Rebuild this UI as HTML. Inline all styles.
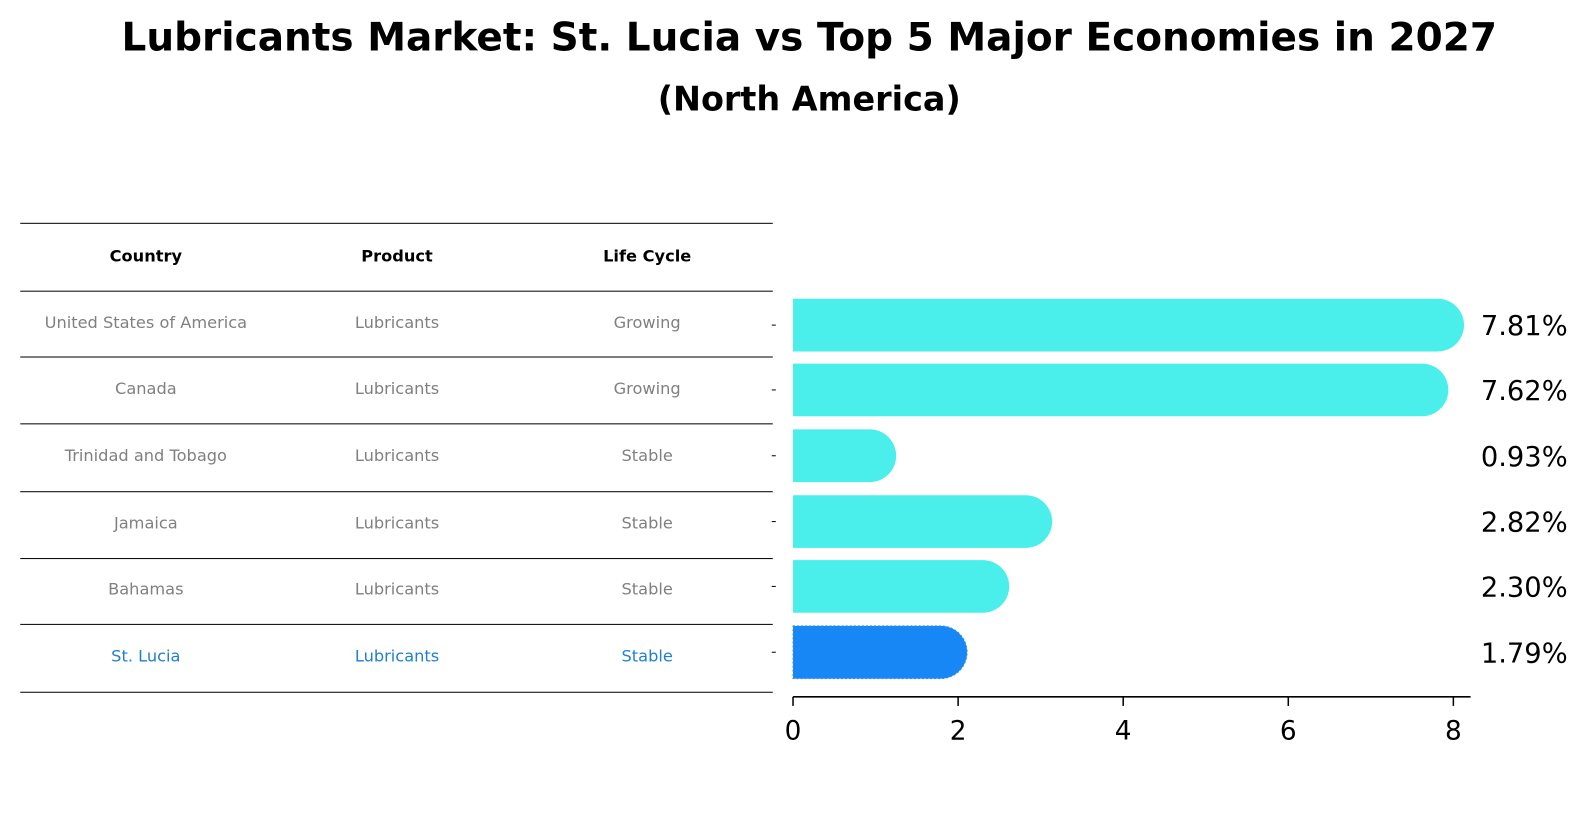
<!DOCTYPE html>
<html><head><meta charset="utf-8"><style>
body{margin:0;width:1586px;height:823px;background:#fff;font-family:"Liberation Sans","DejaVu Sans",sans-serif;position:relative;overflow:hidden}
#wrap{position:absolute;left:0;top:0;width:1566px;height:813px;transform:scale(1.0128);transform-origin:0 0}
.t{position:absolute;left:0;width:1598px;text-align:center;font-weight:bold;color:#000;white-space:nowrap}
.cell{position:absolute;font-size:16px;color:#808080;text-align:center;width:248px;font-family:"DejaVu Sans",sans-serif;white-space:nowrap;line-height:18px}
.hl{position:absolute;left:20px;width:743px;height:1px;background:#000}
</style></head><body>
<div id="wrap">
<div class="t" style="top:15px;font-size:38.5px;font-family:'DejaVu Sans',sans-serif">Lubricants Market: St. Lucia vs Top 5 Major Economies in 2027</div>
<div class="t" style="top:78px;font-size:33px;font-family:'DejaVu Sans',sans-serif">(North America)</div>
<div id="table"></div>
<svg id="chart" width="1566" height="813" style="position:absolute;left:0;top:0"></svg>
</div>
<script>
const countries=["United States of America","Canada","Trinidad and Tobago","Jamaica","Bahamas","St. Lucia"];
const products=["Lubricants","Lubricants","Lubricants","Lubricants","Lubricants","Lubricants"];
const cycles=["Growing","Growing","Stable","Stable","Stable","Stable"];
const values=[7.81,7.62,0.93,2.82,2.30,1.79];
const ticks=[0,2,4,6,8];
const tbl=document.getElementById('table');
const lines=[220,287,352,418,485,551,616,683];
lines.forEach(y=>{const d=document.createElement('div');d.className='hl';d.style.top=y+'px';


tbl.appendChild(d);});
const colX=[20,268,515];
["Country","Product","Life Cycle"].forEach((h,i)=>{const d=document.createElement('div');d.className='cell';
d.style.left=colX[i]+'px';d.style.top='244px';d.style.color='#000';d.style.fontWeight='bold';d.textContent=h;


tbl.appendChild(d);});
const rowY=[310,375,441,508,573,639];
countries.forEach((c,r)=>{[c,products[r],cycles[r]].forEach((t,i)=>{const d=document.createElement('div');d.className='cell';
d.style.left=colX[i]+'px';d.style.top=rowY[r]+'px';if(r===5)d.style.color='#1f7fd0';d.textContent=t;


tbl.appendChild(d);});});
const svg=document.getElementById('chart');const NS='http://www.w3.org/2000/svg';
const x0=783,ppu=81.5;const xs=v=>x0+v*ppu;
const rowC=[321,385,450,515,579,644];const bh=52;
function el(t,a){const e=document.createElementNS(NS,t);for(const k in a)e.setAttribute(k,a[k]);svg.appendChild(e);return e;}
values.forEach((v,i)=>{const xe=xs(v),yt=rowC[i]-bh/2,r=bh/2;
const col=i===5?'#1787f5':'#4aeeea';
const p=el('path',{d:`M${x0} ${yt}H${xe}A${r} ${r} 0 0 1 ${xe} ${yt+bh}H${x0}Z`,fill:col});
if(i===5){p.setAttribute('stroke','#3a8fe0');p.setAttribute('stroke-dasharray','2 2');}


const t=el('text',{x:1505,y:rowC[i]+10,'font-size':27,'text-anchor':'middle','font-family':'DejaVu Sans,sans-serif'});
t.textContent=v.toFixed(2)+'%';


const yt2=el('line',{x1:762,x2:766,y1:rowC[i],y2:rowC[i],stroke:'#000'});


});
const ax=el('line',{x1:x0,x2:1452,y1:688,y2:688,stroke:'#000','stroke-width':1.5});


ticks.forEach(v=>{const l=el('line',{x1:xs(v),x2:xs(v),y1:688,y2:697,stroke:'#000','stroke-width':1.5});


const t=el('text',{x:xs(v),y:730,'font-size':26,'text-anchor':'middle','font-family':'DejaVu Sans,sans-serif'});t.textContent=v;

});
</script>
</body></html>
